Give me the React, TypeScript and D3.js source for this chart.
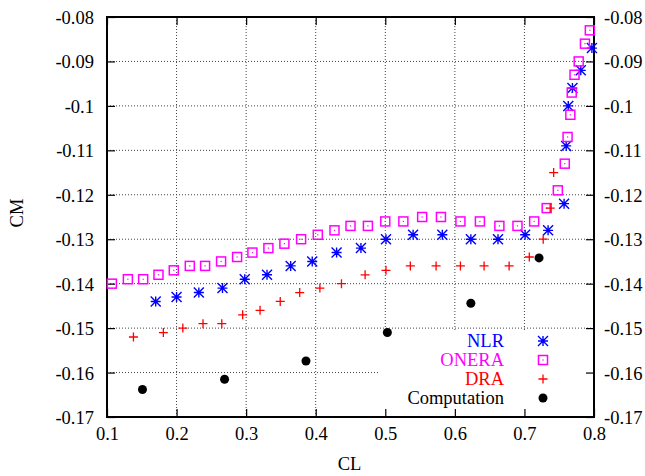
import React, { useEffect, useRef } from "react";
import * as d3 from "d3";

// values
const nlrCL = [0.170, 0.200, 0.232, 0.266, 0.298, 0.330, 0.364, 0.395, 0.430, 0.465, 0.501, 0.540, 0.582, 0.623, 0.662, 0.701, 0.734, 0.757, 0.760, 0.763, 0.769, 0.781, 0.797];
const nlrCM = [-0.144, -0.143, -0.142, -0.141, -0.139, -0.138, -0.136, -0.135, -0.133, -0.132, -0.130, -0.129, -0.129, -0.130, -0.130, -0.129, -0.128, -0.122, -0.109, -0.100, -0.096, -0.092, -0.087];

const oneraCL = [0.107, 0.130, 0.152, 0.174, 0.196, 0.219, 0.241, 0.264, 0.287, 0.309, 0.332, 0.355, 0.379, 0.403, 0.427, 0.450, 0.475, 0.500, 0.526, 0.553, 0.580, 0.608, 0.636, 0.664, 0.690, 0.714, 0.732, 0.748, 0.758, 0.762, 0.766, 0.768, 0.772, 0.778, 0.787, 0.794];
const oneraCM = [-0.140, -0.139, -0.139, -0.138, -0.137, -0.136, -0.136, -0.135, -0.134, -0.133, -0.132, -0.131, -0.130, -0.129, -0.128, -0.127, -0.127, -0.126, -0.126, -0.125, -0.125, -0.126, -0.126, -0.127, -0.127, -0.126, -0.123, -0.119, -0.113, -0.107, -0.102, -0.097, -0.093, -0.090, -0.086, -0.083];

const draCL = [0.138, 0.181, 0.209, 0.238, 0.265, 0.295, 0.320, 0.349, 0.377, 0.406, 0.437, 0.471, 0.501, 0.536, 0.573, 0.608, 0.642, 0.678, 0.707, 0.727, 0.737, 0.742];
const draCM = [-0.152, -0.151, -0.150, -0.149, -0.149, -0.147, -0.146, -0.144, -0.142, -0.141, -0.140, -0.138, -0.137, -0.136, -0.136, -0.136, -0.136, -0.136, -0.134, -0.130, -0.123, -0.115];

const compCL = [0.151, 0.269, 0.386, 0.503, 0.623, 0.721];
const compCM = [-0.1638, -0.1615, -0.1574, -0.1510, -0.1444, -0.1342];

const xTicks = [0.1, 0.2, 0.3, 0.4, 0.5, 0.6, 0.7, 0.8];
const yTicks = [-0.08, -0.09, -0.1, -0.11, -0.12, -0.13, -0.14, -0.15, -0.16, -0.17];

const legendNames = ["NLR", "ONERA", "DRA", "Computation"];
const legendColors = ["#0000ff", "#ff00ff", "#ff0000", "#000000"];

const W = 645;
const H = 476;
const FONT = "'Liberation Serif', 'Times New Roman', serif";

const zip = (a: number[], b: number[]) => a.map((v, i) => ({ x: v, y: b[i] }));

const Chart = () => {
  const svgRef = useRef<SVGSVGElement>(null);

  useEffect(() => {
    const margin = { top: 17, right: 51, bottom: 59, left: 107 };
    const width = W - margin.left - margin.right;
    const height = H - margin.top - margin.bottom;

    const root = d3.select(svgRef.current);
    root.selectAll("*").remove();
    root.attr("width", W).attr("height", H);

    const svg = root.append("g").attr("transform", `translate(${margin.left},${margin.top})`);

    const x = d3.scaleLinear().domain([0.1, 0.8]).range([0, width]);
    const y = d3.scaleLinear().domain([-0.17, -0.08]).range([height, 0]);

    // grid
    const grid = svg.append("g");
    grid
      .selectAll("line.gx")
      .data(xTicks.slice(1, -1))
      .join("line")
      .attr("x1", (d) => x(d))
      .attr("x2", (d) => x(d))
      .attr("y1", 0)
      .attr("y2", height);
    grid
      .selectAll("line.gy")
      .data(yTicks.slice(1, -1))
      .join("line")
      .attr("x1", 0)
      .attr("x2", width)
      .attr("y1", (d) => y(d))
      .attr("y2", (d) => y(d));
    grid
      .selectAll("line")
      .style("stroke", "#444")
      .style("stroke-width", 1)
      .style("stroke-dasharray", "1,2");

    // opaque key box
    svg
      .append("rect")
      .attr("x", x(0.5) - 7)
      .attr("y", y(-0.1507))
      .attr("width", x(0.8) - x(0.5) + 4)
      .attr("height", height - y(-0.1507))
      .style("fill", "white");

    // axes (ticks inward on all sides), plain hyphen minus like gnuplot
    const tk = 8;
    const yFmt = (d: any) => String(+d);
    const axB = d3.axisBottom(x).tickValues(xTicks).tickSize(-tk).tickFormat(d3.format(".1f"));
    const axT = d3.axisTop(x).tickValues(xTicks).tickSize(-tk).tickFormat(() => "");
    const axL = d3.axisLeft(y).tickValues(yTicks).tickSize(-tk).tickFormat(yFmt);
    const axR = d3.axisRight(y).tickValues(yTicks).tickSize(-tk).tickFormat(yFmt);

    const gB = svg.append("g").attr("transform", `translate(0,${height})`).call(axB);
    const gT = svg.append("g").call(axT);
    const gL = svg.append("g").call(axL);
    const gR = svg.append("g").attr("transform", `translate(${width},0)`).call(axR);

    [gB, gT, gL, gR].forEach((g) => {
      g.select(".domain").remove();
      g.selectAll(".tick line").style("stroke", "#000").style("stroke-width", 1.2);
      g.selectAll("text")
        .style("font-family", FONT)
        .style("font-size", "18.5px")
        .style("fill", "#000");
    });
    gB.selectAll("text").attr("y", 10).attr("dy", "0.71em");
    gL.selectAll("text").attr("x", -13).attr("dy", "0.35em");
    gR.selectAll("text").attr("x", 10).attr("dy", "0.35em");

    // frame
    svg
      .append("rect")
      .attr("width", width)
      .attr("height", height)
      .style("fill", "none")
      .style("stroke", "#000")
      .style("stroke-width", 2);

    // axis titles
    svg
      .append("text")
      .attr("x", width / 2 - 1)
      .attr("y", height + 53)
      .style("text-anchor", "middle")
      .style("font-family", FONT)
      .style("font-size", "18.5px")
      .text("CL");
    svg
      .append("text")
      .attr("transform", `translate(${17 - margin.left + 6},${196}) rotate(-90)`)
      .style("text-anchor", "middle")
      .style("font-family", FONT)
      .style("font-size", "18.5px")
      .text("CM");

    // markers
    const star = (g: any, cx: number, cy: number, color: string) => {
      const s = 5;
      const d = `M${cx - s},${cy}H${cx + s}M${cx},${cy - s}V${cy + s}M${cx - s},${cy - s}L${cx + s},${cy + s}M${cx - s},${cy + s}L${cx + s},${cy - s}`;
      g.append("path").attr("d", d).style("stroke", color).style("stroke-width", 1.4).style("fill", "none");
    };
    const box = (g: any, cx: number, cy: number, color: string) => {
      const s = 4.5;
      g.append("rect")
        .attr("x", cx - s)
        .attr("y", cy - s)
        .attr("width", 2 * s)
        .attr("height", 2 * s)
        .style("stroke", color)
        .style("stroke-width", 1.5)
        .style("fill", "none");
      g.append("rect").attr("x", cx - 0.6).attr("y", cy - 0.6).attr("width", 1.2).attr("height", 1.2).style("fill", color);
    };
    const plus = (g: any, cx: number, cy: number, color: string) => {
      const s = 4.5;
      g.append("path")
        .attr("d", `M${cx - s},${cy}H${cx + s}M${cx},${cy - s}V${cy + s}`)
        .style("stroke", color)
        .style("stroke-width", 1.3)
        .style("fill", "none");
    };
    const dot = (g: any, cx: number, cy: number, color: string) => {
      g.append("circle").attr("cx", cx).attr("cy", cy).attr("r", 4.5).style("fill", color);
    };
    const drawers = [star, box, plus, dot];

    const series = [zip(nlrCL, nlrCM), zip(oneraCL, oneraCM), zip(draCL, draCM), zip(compCL, compCM)];
    const pts = svg.append("g");
    series.forEach((data, i) => {
      data.forEach((d) => drawers[i](pts, x(d.x), y(d.y), legendColors[i]));
    });

    // key
    const key = svg.append("g");
    legendNames.forEach((name, i) => {
      const cy = 325 - margin.top + i * 19;
      key
        .append("text")
        .attr("x", 504 - margin.left)
        .attr("y", cy + 16)
        .attr("dy", "0.35em")
        .style("text-anchor", "end")
        .style("font-family", FONT)
        .style("font-size", "18.5px")
        .style("fill", legendColors[i])
        .text(name);
      drawers[i](key, 543 - margin.left, cy + 16, legendColors[i]);
    });
  }, []);

  return <svg ref={svgRef} style={{ display: "block" }}></svg>;
};

export default function App() {
  return (
    <div style={{ position: "absolute", left: 0, top: 0, width: W, height: H, background: "white" }}>
      <Chart />
    </div>
  );
}
